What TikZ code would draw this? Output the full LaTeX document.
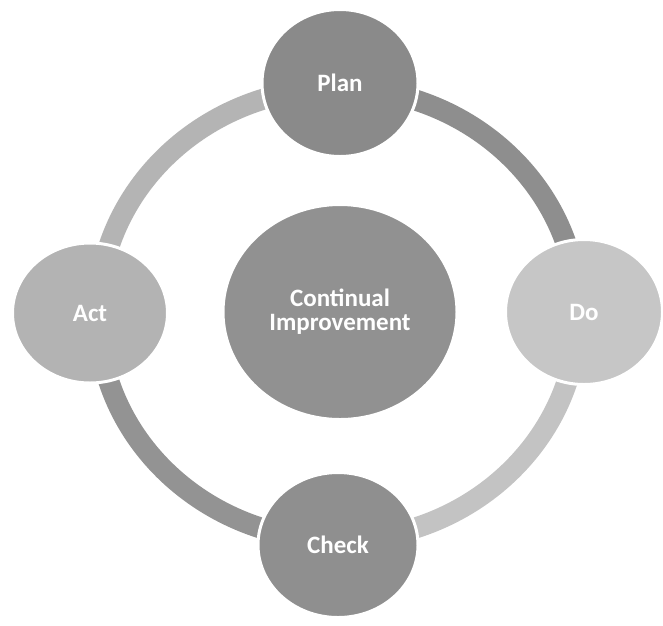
\documentclass[tikz,border=0pt]{standalone}
\usepackage{fontspec}
\setmainfont{Carlito}
\usetikzlibrary{shapes.geometric}
\definecolor{ringA}{HTML}{8E8E8E}
\definecolor{ringB}{HTML}{C3C3C3}
\definecolor{ringC}{HTML}{939393}
\definecolor{ringD}{HTML}{B4B4B4}
\definecolor{cPlan}{HTML}{8A8A8A}
\definecolor{cDo}{HTML}{C6C6C6}
\definecolor{cCheck}{HTML}{8F8F8F}
\definecolor{cAct}{HTML}{B3B3B3}
\definecolor{cMid}{HTML}{919191}
\tikzset{
  phase/.style={ellipse, draw=white, line width=3pt, inner sep=0pt,
    text=white, font=\fontsize{25}{26}\selectfont\bfseries, align=center},
  ringseg/.style={line width=21pt}
}
\begin{document}
\begin{tikzpicture}[x=1pt,y=-1pt]
\useasboundingbox (0,0) rectangle (663,625);
\fill[white] (0,0) rectangle (663,625);
\coordinate (c) at (338,314);
% ring segments
\draw[ringseg, ringA] (c) ++(270:240 and 226) arc[start angle=270, end angle=360, x radius=240, y radius=226];
\draw[ringseg, ringB] (c) ++(0:240 and 226) arc[start angle=0, end angle=90, x radius=240, y radius=226];
\draw[ringseg, ringC] (c) ++(90:240 and 226) arc[start angle=90, end angle=180, x radius=240, y radius=226];
\draw[ringseg, ringD] (c) ++(180:240 and 226) arc[start angle=180, end angle=270, x radius=240, y radius=226];
% circles
\node[phase, fill=cMid, minimum width=234pt, minimum height=215pt] (mid) at (340,312) {Continual\\[-2pt]Improvement};
\node[phase, fill=cPlan, minimum width=156pt, minimum height=147pt] (plan) at (340,83) {Plan};
\node[phase, fill=cDo, minimum width=157pt, minimum height=145pt] (do) at (584,312) {Do};
\node[phase, fill=cCheck, minimum width=160pt, minimum height=145pt] (check) at (338,545) {Check};
\node[phase, fill=cAct, minimum width=155pt, minimum height=140pt] (act) at (90,313) {Act};
\end{tikzpicture}
\end{document}
